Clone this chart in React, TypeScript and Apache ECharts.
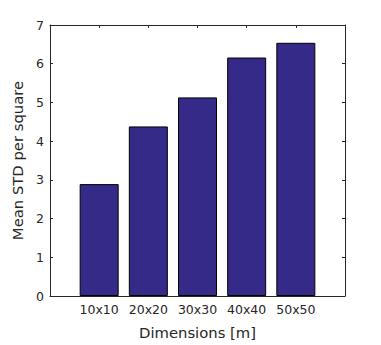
import React, { useEffect, useRef } from "react";
import * as echarts from "echarts";

const categories = ["10x10", "20x20", "30x30", "40x40", "50x50"];
const positions = [1, 2, 3, 4, 5];
const meanStd = [2.89, 4.38, 5.13, 6.16, 6.54];
const yTicks = [0, 1, 2, 3, 4, 5, 6, 7];

const TEXT = "#262626";
const AXIS = "#262626";
const FONT = "DejaVu Sans";

export default function App() {
  const ref = useRef<HTMLDivElement>(null);
  useEffect(() => {
    document.body.style.margin = "0";
    if (!ref.current) return;
    const chart = echarts.init(ref.current, undefined, { renderer: "svg" });
    const common = {
      axisLine: { show: true, onZero: false, lineStyle: { color: AXIS, width: 1 } },
      axisTick: { show: true, inside: true, length: 3, lineStyle: { color: AXIS, width: 1 } },
      splitLine: { show: false },
    };
    chart.setOption({
      animation: false,
      backgroundColor: "#ffffff",
      grid: { left: 50, top: 25, width: 295, height: 278, containLabel: false },
      xAxis: [
        {
          type: "value",
          min: 0,
          max: 6,
          interval: 1,
          position: "bottom",
          ...common,
          axisLabel: {
            show: true,
            color: TEXT,
            fontFamily: FONT,
            fontSize: 12.5,
            margin: 7,
            formatter: (v: number) => {
              const i = positions.indexOf(v);
              return i >= 0 ? categories[i] : "";
            },
          },
          name: "Dimensions [m]",
          nameLocation: "middle",
          nameGap: 29,
          nameTextStyle: { color: TEXT, fontFamily: FONT, fontSize: 14.8 },
        },
        {
          type: "value",
          min: 0,
          max: 6,
          interval: 1,
          position: "top",
          ...common,
          axisLabel: { show: false },
        },
      ],
      yAxis: [
        {
          type: "value",
          min: 0,
          max: 7,
          interval: 1,
          position: "left",
          ...common,
          axisLabel: {
            show: true,
            color: TEXT,
            fontFamily: FONT,
            fontSize: 12.5,
            margin: 6,
            formatter: (v: number) => (yTicks.includes(v) ? String(v) : ""),
          },
          name: "Mean STD per square",
          nameLocation: "middle",
          nameGap: 16,
          nameRotate: 90,
          nameTextStyle: { color: TEXT, fontFamily: FONT, fontSize: 14.8 },
        },
        {
          type: "value",
          min: 0,
          max: 7,
          interval: 1,
          position: "right",
          ...common,
          axisLabel: { show: false },
        },
      ],
      series: [
        {
          type: "bar",
          xAxisIndex: 0,
          yAxisIndex: 0,
          data: positions.map((p, i) => [p, meanStd[i]]),
          barWidth: 39,
          itemStyle: { color: "#352a87", borderColor: "#000000", borderWidth: 1 },
        },
      ],
    });
    return () => chart.dispose();
  }, []);
  return <div ref={ref} style={{ width: 381, height: 345 }} />;
}
